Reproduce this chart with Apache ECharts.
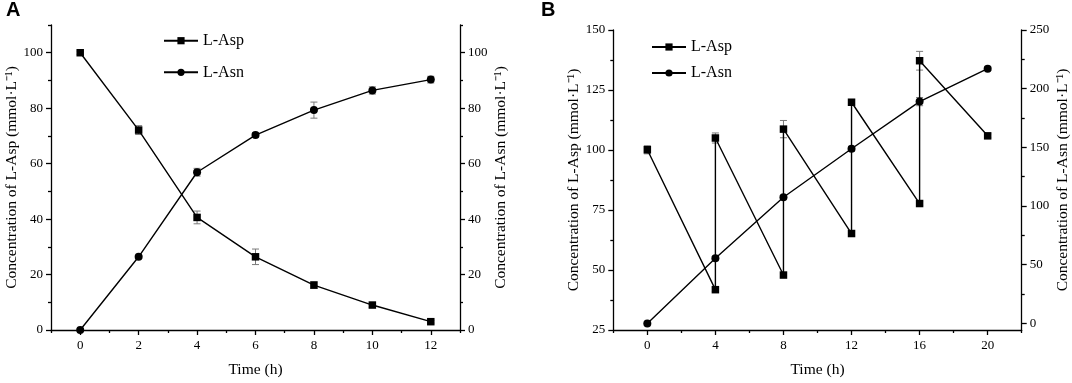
<!DOCTYPE html>
<html>
<head>
<meta charset="utf-8">
<script src="https://cdn.jsdelivr.net/npm/echarts@6/dist/echarts.min.js"></script>
<style>
html,body{margin:0;padding:0;background:#fff;}
#main{width:1072px;height:383px;}
</style>
</head>
<body>
<div id="main"></div>
<script>
// panel A: conversion over 12 h
var timeA = [0, 2, 4, 6, 8, 10, 12];
var aspA = [100, 72.1, 40.6, 26.4, 16.2, 9.0, 3.0];
var aspErrA = [0.6, 1.6, 2.3, 2.8, 1.2, 0.8, 0.5];
var asnA = [0, 26.4, 56.9, 70.3, 79.3, 86.4, 90.3];
var asnErrA = [0.3, 0.5, 1.4, 0.8, 2.9, 1.3, 1.2];

// panel B: fed-batch, L-Asp is topped up every 4 h
var timeAspB = [0, 4, 4, 8, 8, 12, 12, 16, 16, 20];
var aspB = [100.1, 41.8, 105, 47.9, 108.7, 65.2, 119.9, 77.7, 137.2, 105.9];
var aspErrB = [1.7, 0.8, 2.1, 0.8, 3.6, 0.8, 1.0, 0.8, 3.9, 0.8];
var timeAsnB = [0, 4, 8, 12, 16, 20];
var asnB = [0, 55.6, 107.5, 148.8, 189, 217];
var asnErrB = [0.5, 1.5, 1.5, 2, 3.5, 1.5];

// tick labels
var xTicksA = [0, 2, 4, 6, 8, 10, 12];
var xMinorA = [-1, 1, 3, 5, 7, 9, 11, 13];
var yTicksA = [0, 20, 40, 60, 80, 100];
var yMinorA = [10, 30, 50, 70, 90, 110];
var xTicksB = [0, 4, 8, 12, 16, 20];
var xMinorB = [-2, 2, 6, 10, 14, 18, 22];
var yLeftTicksB = [25, 50, 75, 100, 125, 150];
var yLeftMinorB = [37.5, 62.5, 87.5, 112.5, 137.5];
var yRightTicksB = [0, 50, 100, 150, 200, 250];
var yRightMinorB = [25, 75, 125, 175, 225];

var FONT = 'Liberation Serif';
var yTitleAsp = 'Concentration of L-Asp (mmol·L⁻¹)';
var yTitleAsn = 'Concentration of L-Asn (mmol·L⁻¹)';

function pairs(xs, ys) {
	return xs.map(function (x, i) { return [x, ys[i]]; });
}
function errData(xs, ys, es) {
	return xs.map(function (x, i) { return [x, ys[i] - es[i], ys[i] + es[i]]; });
}

function renderErr(params, api) {
	var x = api.value(0);
	var top = api.coord([x, api.value(2)]);
	var bot = api.coord([x, api.value(1)]);
	var w = 3.5;
	var st = { stroke: '#7a7a7a', lineWidth: 1 };
	return {
		type: 'group',
		children: [
			{ type: 'line', shape: { x1: top[0], y1: top[1], x2: bot[0], y2: bot[1] }, style: st },
			{ type: 'line', shape: { x1: top[0] - w, y1: top[1], x2: top[0] + w, y2: top[1] }, style: st },
			{ type: 'line', shape: { x1: bot[0] - w, y1: bot[1], x2: bot[0] + w, y2: bot[1] }, style: st }
		]
	};
}

// main axis: line + labels + major ticks
function mainX(grid, min, max, ticks) {
	return {
		type: 'value', gridIndex: grid, min: min, max: max, position: 'bottom',
		name: 'Time (h)', nameLocation: 'middle', nameGap: 32,
		nameTextStyle: { fontFamily: FONT, fontSize: 15.5, color: '#000' },
		axisLine: { onZero: false, lineStyle: { color: '#000', width: 1.3 } },
		axisTick: { inside: false, length: 5, customValues: ticks, lineStyle: { color: '#000', width: 1.3 } },
		axisLabel: { customValues: ticks, margin: 9, fontFamily: FONT, fontSize: 13, color: '#000' },
		splitLine: { show: false }
	};
}
function mainY(grid, pos, min, max, ticks, title) {
	return {
		type: 'value', gridIndex: grid, min: min, max: max, position: pos,
		name: title, nameLocation: 'middle', nameRotate: 90, nameGap: pos === 'left' ? 30 : 33,
		nameTextStyle: { fontFamily: FONT, fontSize: 15.5, color: '#000' },
		axisLine: { show: true, onZero: false, lineStyle: { color: '#000', width: 1.3 } },
		axisTick: { show: true, length: 5, customValues: ticks, lineStyle: { color: '#000', width: 1.3 } },
		axisLabel: { customValues: ticks, margin: 8, fontFamily: FONT, fontSize: 13, color: '#000' },
		splitLine: { show: false }
	};
}
// extra axis that only draws the short minor ticks
function minorAxis(grid, pos, min, max, ticks) {
	return {
		type: 'value', gridIndex: grid, min: min, max: max, position: pos, offset: 0,
		axisLine: { show: false, onZero: false },
		axisTick: { show: true, length: 3, customValues: ticks, lineStyle: { color: '#000', width: 1.3 } },
		axisLabel: { show: false },
		splitLine: { show: false }
	};
}

var lineBase = {
	type: 'line', z: 3,
	lineStyle: { color: '#000', width: 1.4 },
	itemStyle: { color: '#000' },
	emphasis: { disabled: true }
};
function lineSeries(name, symbol, xi, yi, data) {
	return Object.assign({}, lineBase, {
		name: name, symbol: symbol, symbolSize: symbol === 'rect' ? 7.5 : 8,
		xAxisIndex: xi, yAxisIndex: yi, data: data
	});
}
function errSeries(xi, yi, data) {
	return {
		type: 'custom', z: 2, xAxisIndex: xi, yAxisIndex: yi,
		renderItem: renderErr, encode: { x: 0, y: [1, 2] },
		data: data, silent: true
	};
}

var legendText = { fontFamily: FONT, fontSize: 16, color: '#000', lineHeight: 16 };

var option = {
	backgroundColor: '#fff',
	animation: false,
	title: [
		{ text: 'A', left: 6, top: 0, padding: 0, textStyle: { fontFamily: 'Liberation Sans', fontWeight: 'bold', fontSize: 20, color: '#000' } },
		{ text: 'B', left: 541, top: 0, padding: 0, textStyle: { fontFamily: 'Liberation Sans', fontWeight: 'bold', fontSize: 20, color: '#000' } }
	],
	legend: [
		{
			data: ['L-Asp', 'L-Asn'], orient: 'vertical', left: 163, top: 32.7, padding: 0,
			itemWidth: 34, itemHeight: 9, itemGap: 15.6, textStyle: legendText
		},
		{
			data: ['L-Asp', 'L-Asn'], orient: 'vertical', left: 651, top: 39, padding: 0,
			itemWidth: 34, itemHeight: 9, itemGap: 10, textStyle: legendText
		}
	],
	grid: [
		{ left: 51, top: 25, width: 409, height: 305 },
		{ left: 613.3, top: 30, width: 408.4, height: 305 }
	],
	xAxis: [
		mainX(0, -1, 13, xTicksA),
		minorAxis(0, 'bottom', -1, 13, xMinorA),
		mainX(1, -2, 22, xTicksB),
		minorAxis(1, 'bottom', -2, 22, xMinorB)
	],
	yAxis: [
		mainY(0, 'left', 0, 110, yTicksA, yTitleAsp),
		mainY(0, 'right', 0, 110, yTicksA, yTitleAsn),
		minorAxis(0, 'left', 0, 110, yMinorA),
		minorAxis(0, 'right', 0, 110, yMinorA),
		mainY(1, 'left', 25, 150, yLeftTicksB, yTitleAsp),
		mainY(1, 'right', -5.6, 250, yRightTicksB, yTitleAsn),
		minorAxis(1, 'left', 25, 150, yLeftMinorB),
		minorAxis(1, 'right', -5.6, 250, yRightMinorB)
	],
	series: [
		errSeries(0, 0, errData(timeA, aspA, aspErrA)),
		errSeries(0, 1, errData(timeA, asnA, asnErrA)),
		lineSeries('L-Asp', 'rect', 0, 0, pairs(timeA, aspA)),
		lineSeries('L-Asn', 'circle', 0, 1, pairs(timeA, asnA)),
		errSeries(2, 4, errData(timeAspB, aspB, aspErrB)),
		errSeries(2, 5, errData(timeAsnB, asnB, asnErrB)),
		lineSeries('L-Asp', 'rect', 2, 4, pairs(timeAspB, aspB)),
		lineSeries('L-Asn', 'circle', 2, 5, pairs(timeAsnB, asnB))
	]
};

var myChart = echarts.init(document.getElementById('main'));
myChart.setOption(option);
</script>
</body>
</html>
